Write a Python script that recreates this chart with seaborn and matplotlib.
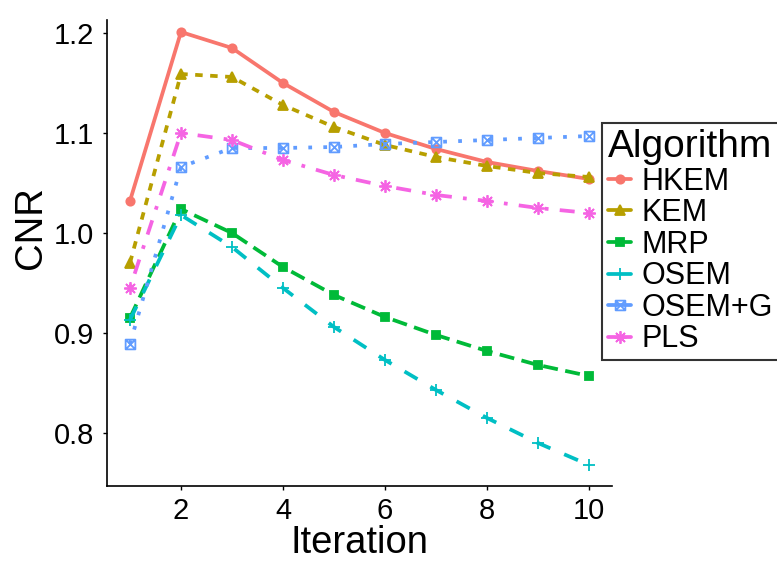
import numpy as np
import pandas as pd
import matplotlib
matplotlib.use("Agg")
import matplotlib.pyplot as plt
from matplotlib.path import Path
from matplotlib.lines import Line2D
import seaborn as sns

# CNR per iteration for each reconstruction algorithm
iterations = [1, 2, 3, 4, 5, 6, 7, 8, 9, 10]
algorithms = ["HKEM", "KEM", "MRP", "OSEM", "OSEM+G", "PLS"]
hkem = [1.032, 1.201, 1.185, 1.150, 1.121, 1.100, 1.084, 1.071, 1.062, 1.054]
kem = [0.970, 1.159, 1.156, 1.128, 1.106, 1.088, 1.076, 1.067, 1.060, 1.056]
mrp = [0.915, 1.024, 1.000, 0.966, 0.938, 0.916, 0.898, 0.882, 0.868, 0.857]
osem = [0.913, 1.018, 0.986, 0.945, 0.906, 0.873, 0.843, 0.815, 0.790, 0.768]
osem_g = [0.889, 1.066, 1.085, 1.085, 1.086, 1.089, 1.091, 1.093, 1.095, 1.097]
pls = [0.945, 1.100, 1.093, 1.073, 1.058, 1.047, 1.038, 1.032, 1.025, 1.020]

series = [hkem, kem, mrp, osem, osem_g, pls]
df = pd.DataFrame({
    "Iteration": iterations * len(algorithms),
    "CNR": np.concatenate(series),
    "Algorithm": np.repeat(algorithms, len(iterations)),
})

# ggplot-like hue palette, linetypes and shapes
colors = ["#F8766D", "#B79F00", "#00BA38", "#00BFC4", "#619CFF", "#F564E3"]
linestyles = ["-", (0, (2, 2)), (0, (4, 2)), (0, (4, 4)), (0, (1, 3)), (0, (1, 3, 4, 3))]

box_x = Path(
    [(-1, -1), (1, -1), (1, 1), (-1, 1), (-1, -1),
     (-1, -1), (1, 1), (-1, 1), (1, -1)],
    [Path.MOVETO, Path.LINETO, Path.LINETO, Path.LINETO, Path.CLOSEPOLY,
     Path.MOVETO, Path.LINETO, Path.MOVETO, Path.LINETO],
)
markers = ["o", "^", "s", "+", box_x, (8, 2, 0)]
msizes = [6, 7.5, 6, 9, 7, 9]
filled = [True, True, True, False, False, False]

sns.set_theme(style="white")
plt.rcParams["font.family"] = ["Liberation Sans", "DejaVu Sans"]
plt.rcParams["text.color"] = "black"

fig = plt.figure(figsize=(7.77, 5.65), dpi=100)
ax = fig.add_axes([107 / 777, 1 - 486 / 565, 505 / 777, 466 / 565])

lw = 2.7
handles = []
for i, alg in enumerate(algorithms):
    sub = df[df["Algorithm"] == alg]
    mk = dict(marker=markers[i], markersize=msizes[i], markeredgewidth=1.3)
    if filled[i]:
        mk.update(markerfacecolor=colors[i], markeredgecolor=colors[i])
    else:
        mk.update(markerfacecolor="none", markeredgecolor=colors[i])
    sns.lineplot(data=sub, x="Iteration", y="CNR", ax=ax, color=colors[i],
                 linestyle=linestyles[i], linewidth=lw, legend=False, **mk)
    handles.append(Line2D([], [], color=colors[i], linewidth=lw, **mk))

ax.set_xlim(0.55, 10.45)
ax.set_ylim(0.747, 1.213)
ax.set_xticks([2, 4, 6, 8, 10])
ax.set_yticks([0.8, 0.9, 1.0, 1.1, 1.2])
ax.set_yticklabels(["0.8", "0.9", "1.0", "1.1", "1.2"])

for side in ["top", "right"]:
    ax.spines[side].set_visible(False)
for side in ["left", "bottom"]:
    ax.spines[side].set_color("black")
    ax.spines[side].set_linewidth(1.2)

ax.tick_params(axis="both", which="major", length=3, width=1, color="black",
               labelsize=21, labelcolor="black", direction="out")
ax.tick_params(axis="x", pad=5)
ax.tick_params(axis="y", pad=6)
ax.tick_params(left=True, bottom=True)

ax.set_xlabel("Iteration", fontsize=27.5, color="black", labelpad=0)
ax.set_ylabel("CNR", fontsize=27.5, color="black")
ax.yaxis.set_label_coords(-0.115, 0.555)

leg = fig.legend(handles, algorithms, title="Algorithm", loc="upper left",
                 bbox_to_anchor=(602 / 777, 1 - 123 / 565), borderaxespad=0,
                 fontsize=22, title_fontsize=28, frameon=True, fancybox=False,
                 edgecolor="black", handlelength=0.75, handletextpad=0.33,
                 labelspacing=0.05, borderpad=0.2, alignment="left")
leg.get_frame().set_linewidth(1.5)

fig.savefig("out.png", dpi=100)
